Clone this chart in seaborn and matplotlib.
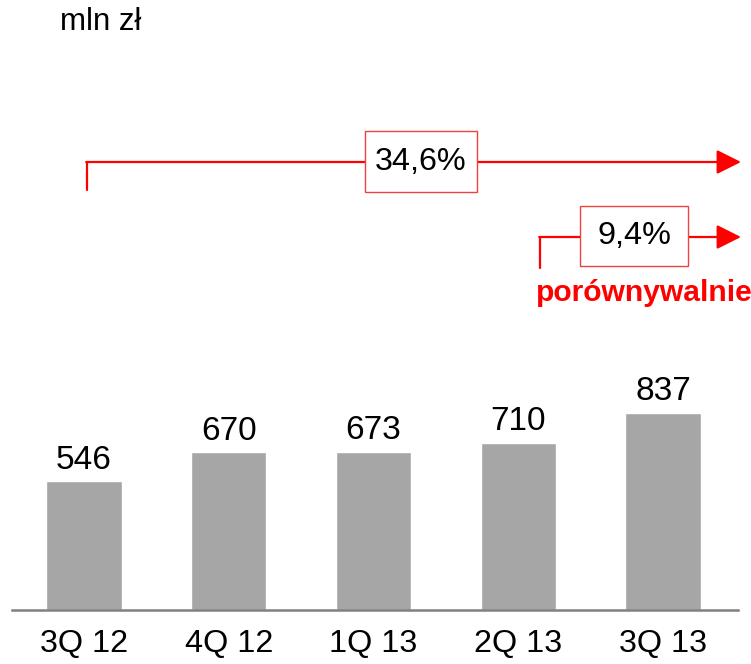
import matplotlib
matplotlib.use("Agg")
import matplotlib.pyplot as plt
from matplotlib.patches import Rectangle, FancyArrowPatch
import seaborn as sns
import pandas as pd

categories = ["3Q 12", "4Q 12", "1Q 13", "2Q 13", "3Q 13"]
values = [546, 670, 673, 710, 837]
unit_label = "mln zł"
growth_total = "34,6%"
growth_comparable = "9,4%"
comparable_label = "porównywalnie"

sns.set_theme(style="white")
plt.rcParams["font.family"] = ["Liberation Sans", "DejaVu Sans"]

W, H = 751, 664
fig = plt.figure(figsize=(W / 100, H / 100), dpi=100)
base_px = 610
ax = fig.add_axes([12 / W, (H - base_px) / H, 726 / W, base_px / H])

df = pd.DataFrame({"q": categories, "v": values})
sns.barplot(data=df, x="q", y="v", color="#A6A6A6", saturation=1, width=0.52, ax=ax)
ax.set_xlim(-0.497, 4.518)
ax.set_ylim(0, base_px / 0.2354)
ax.bar_label(ax.containers[0], labels=[str(v) for v in values], padding=4, fontsize=24, color="black")
ax.set_xlabel("")
ax.set_ylabel("")
ax.set_yticks([])
ax.tick_params(axis="x", length=0, pad=14, labelsize=23.3, labelcolor="black")
for s in ["top", "left", "right"]:
    ax.spines[s].set_visible(False)
ax.spines["bottom"].set_color("#808080")
ax.spines["bottom"].set_linewidth(1.8)
ax.set_facecolor("white")


def P(x, y):
    return (x / W, 1 - y / H)


red = "#FF0000"
tf = fig.transFigure


def bracket_arrow(x0, y_bot, y_line, x_end):
    fig.add_artist(plt.Line2D([P(x0, y_bot)[0], P(x0, y_line)[0]], [P(x0, y_bot)[1], P(x0, y_line)[1]],
                              transform=tf, color=red, lw=1.6))
    arr = FancyArrowPatch(P(x0 - 0.8, y_line), P(x_end, y_line), transform=tf,
                          arrowstyle="-|>,head_length=1.0,head_width=0.5", mutation_scale=15,
                          color=red, lw=1.6, shrinkA=0, shrinkB=0)
    fig.add_artist(arr)


def box_text(x0, y0, x1, y1, txt):
    r = Rectangle(P(x0, y1), (x1 - x0) / W, (y1 - y0) / H, transform=tf,
                  facecolor="white", edgecolor="#F04040", lw=1.0, zorder=5)
    fig.add_artist(r)
    cx, cy = P((x0 + x1) / 2, (y0 + y1) / 2)
    fig.text(cx, cy, txt, ha="center", va="center", fontsize=23.3, color="black", zorder=6)


bracket_arrow(87, 190, 162, 741)
box_text(365, 131, 477, 192, growth_total)
bracket_arrow(540, 268, 237, 741)
box_text(580, 206, 688, 266, growth_comparable)
fig.text(*P(644, 293), comparable_label, ha="center", va="center", fontsize=21.6,
         fontweight="bold", color=red)
fig.text(*P(60, 22), unit_label, ha="left", va="center", fontsize=22.5, color="black")

fig.savefig("out.png", dpi=100, facecolor="white")
